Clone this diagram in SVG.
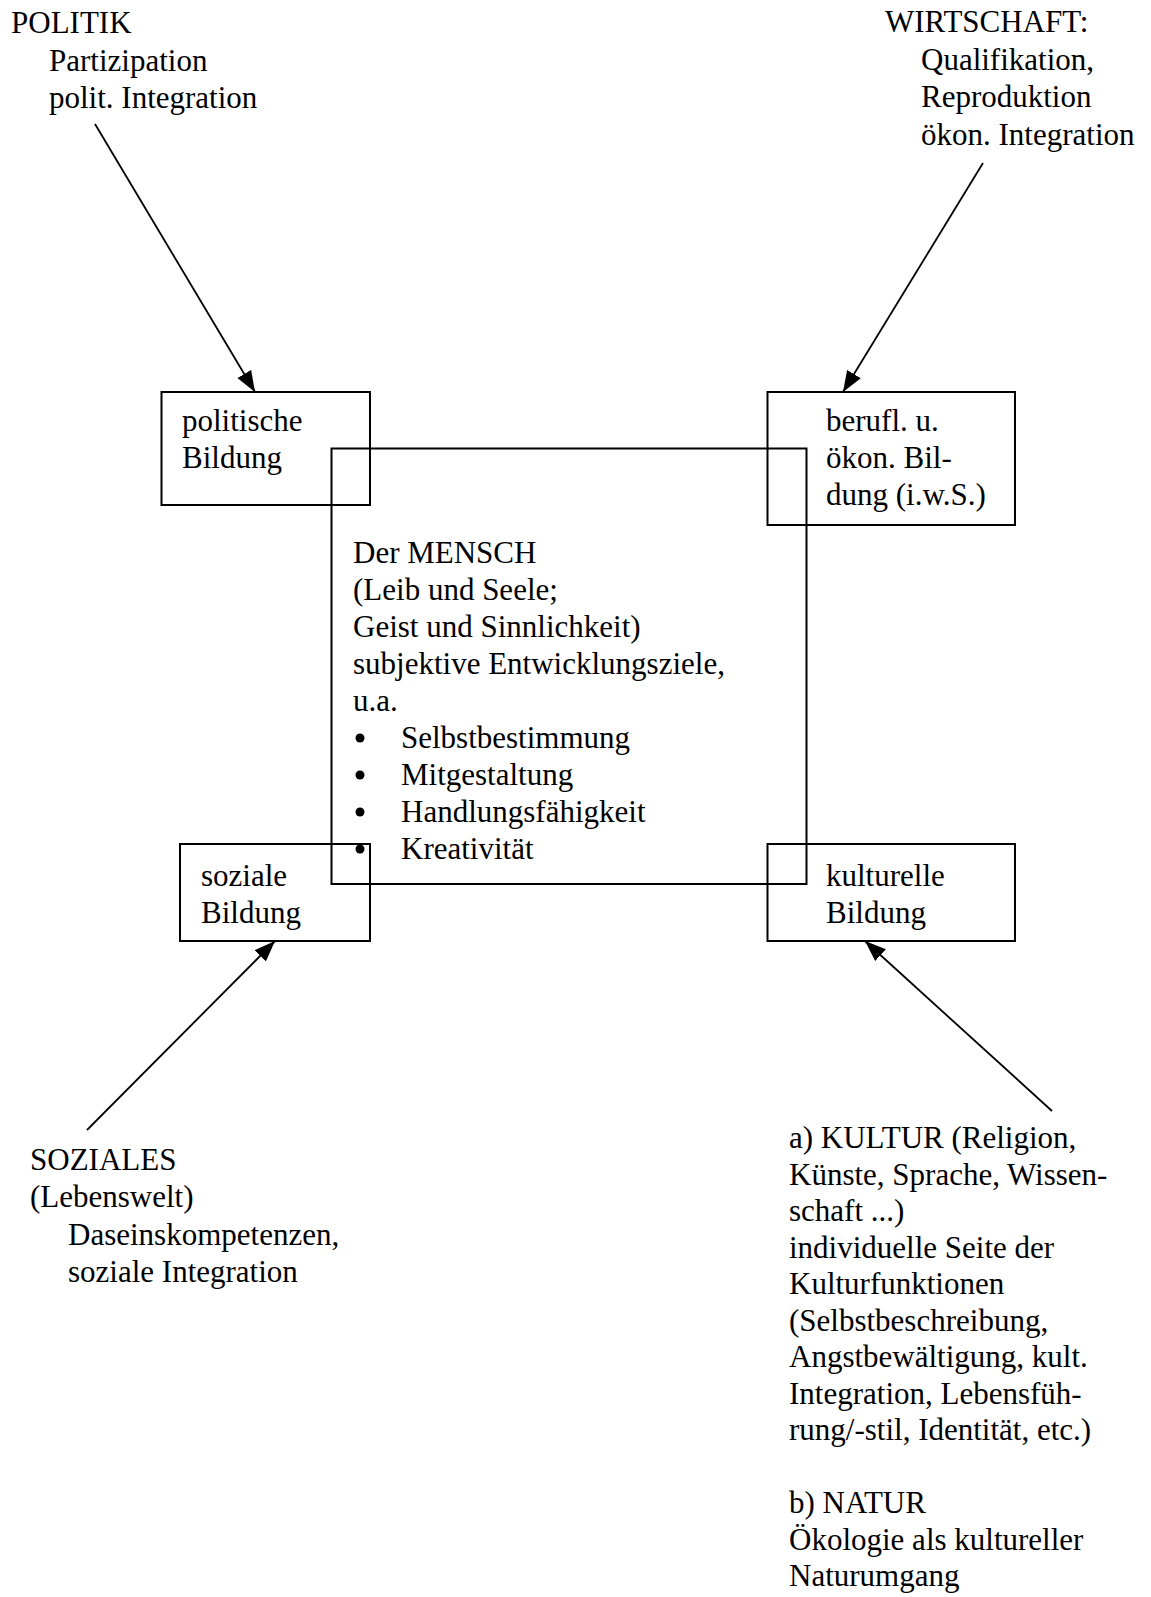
<svg xmlns="http://www.w3.org/2000/svg" width="1151" height="1597" viewBox="0 0 1151 1597">
<style>
text{font-family:"Liberation Serif","Times New Roman",serif;font-size:31px;fill:#000}
.box{fill:none;stroke:#000;stroke-width:2}
.conn{stroke:#000;stroke-width:1.8;fill:none}
</style>
<defs>
<marker id="ah" markerUnits="userSpaceOnUse" markerWidth="22" markerHeight="18" refX="21" refY="8" orient="auto" viewBox="0 0 22 16">
<path d="M0,0 L21,8 L0,16 z" fill="#000"/>
</marker>
</defs>
<rect width="1151" height="1597" fill="#fff"/>
<g id="politik">
<text x="11" y="33">POLITIK</text>
<text x="49" y="70.5">Partizipation</text>
<text x="49" y="108">polit. Integration</text>
</g>
<g id="wirtschaft">
<text x="885" y="32">WIRTSCHAFT:</text>
<text x="921" y="69.5">Qualifikation,</text>
<text x="921" y="107">Reproduktion</text>
<text x="921" y="144.5">ökon. Integration</text>
</g>
<g id="politische-bildung">
<rect class="box" x="161.5" y="392" width="208.5" height="113"/>
<text x="182" y="431">politische</text>
<text x="182" y="468">Bildung</text>
</g>
<g id="berufl-bildung">
<rect class="box" x="767.5" y="392" width="247.5" height="133"/>
<text x="826" y="431">berufl. u.</text>
<text x="826" y="468">ökon. Bil-</text>
<text x="826" y="505">dung (i.w.S.)</text>
</g>
<g id="mensch">
<rect class="box" x="331.5" y="448.5" width="475" height="435.5"/>
<text x="353" y="563">Der MENSCH</text>
<text x="353" y="600">(Leib und Seele;</text>
<text x="353" y="637">Geist und Sinnlichkeit)</text>
<text x="353" y="674">subjektive Entwicklungsziele,</text>
<text x="353" y="711">u.a.</text>
<circle cx="360" cy="738" r="4.5"/>
<text x="401" y="748">Selbstbestimmung</text>
<circle cx="360" cy="775" r="4.5"/>
<text x="401" y="785">Mitgestaltung</text>
<circle cx="360" cy="812" r="4.5"/>
<text x="401" y="822">Handlungsfähigkeit</text>
<circle cx="360" cy="849" r="4.5"/>
<text x="401" y="859">Kreativität</text>
</g>
<g id="soziale-bildung">
<rect class="box" x="180" y="844" width="190" height="97"/>
<text x="201" y="886">soziale</text>
<text x="201" y="922.5">Bildung</text>
</g>
<g id="kulturelle-bildung">
<rect class="box" x="767.5" y="844" width="247.5" height="97"/>
<text x="826" y="886">kulturelle</text>
<text x="826" y="922.5">Bildung</text>
</g>
<g id="soziales">
<text x="30" y="1169.5">SOZIALES</text>
<text x="30" y="1207">(Lebenswelt)</text>
<text x="68" y="1244.5">Daseinskompetenzen,</text>
<text x="68" y="1282">soziale Integration</text>
</g>
<g id="kultur">
<text x="789" y="1148">a) KULTUR (Religion,</text>
<text x="789" y="1184.5">Künste, Sprache, Wissen-</text>
<text x="789" y="1221">schaft ...)</text>
<text x="789" y="1257.5">individuelle Seite der</text>
<text x="789" y="1294">Kulturfunktionen</text>
<text x="789" y="1330.5">(Selbstbeschreibung,</text>
<text x="789" y="1367">Angstbewältigung, kult.</text>
<text x="789" y="1403.5">Integration, Lebensfüh-</text>
<text x="789" y="1440">rung/-stil, Identität, etc.)</text>
<text x="789" y="1513">b) NATUR</text>
<text x="789" y="1549.5">Ökologie als kultureller</text>
<text x="789" y="1586">Naturumgang</text>
</g>
<g id="connectors">
<line class="conn" x1="95" y1="124" x2="255" y2="392" marker-end="url(#ah)"/>
<line class="conn" x1="983" y1="163" x2="843" y2="392" marker-end="url(#ah)"/>
<line class="conn" x1="87" y1="1130" x2="275" y2="941" marker-end="url(#ah)"/>
<line class="conn" x1="1052" y1="1111" x2="865" y2="941" marker-end="url(#ah)"/>
</g>
</svg>
